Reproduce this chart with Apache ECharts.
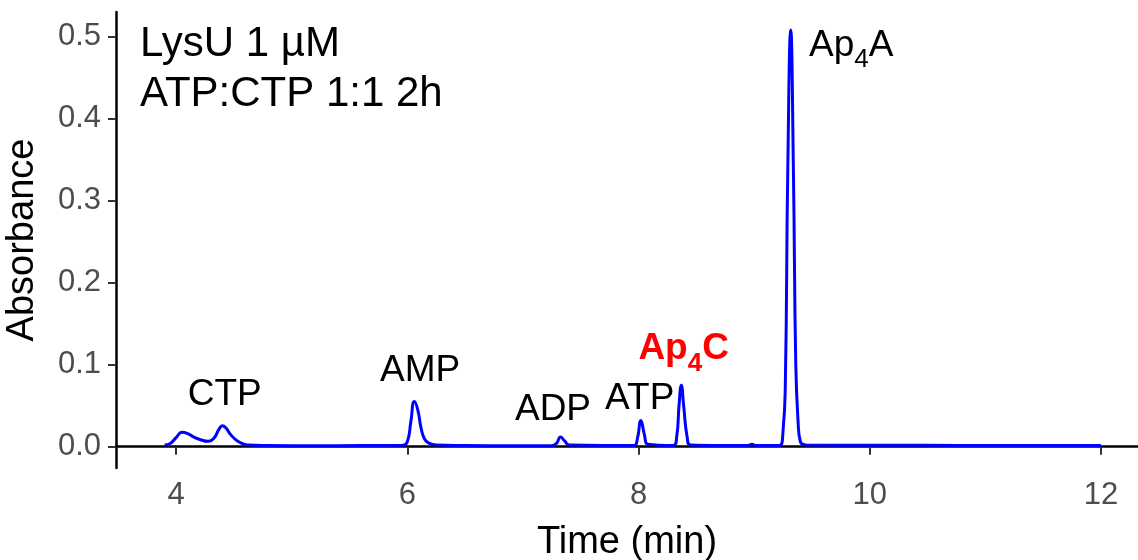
<!doctype html>
<html>
<head>
<meta charset="utf-8">
<title>LysU chromatogram</title>
<script src="https://cdn.jsdelivr.net/npm/echarts@6/dist/echarts.min.js"></script>
<style>
    html,body{
        margin: 0;
        width: 100%;
        height: 100%;
        background: #fff;
    }
    #chart{
        width: 1138px;
        height: 560px;
    }
</style>
</head>
<body>
<div id="chart"></div>
<script>
    // retention time (min) and absorbance
    var times = [
        3.90, 3.95, 4.00, 4.05, 4.10, 4.15, 4.20, 4.28, 4.33, 4.37, 4.40, 4.43, 4.47, 4.52, 4.57, 4.62,
        4.80, 5.20, 5.60, 5.96, 6.00, 6.03, 6.06, 6.09, 6.12, 6.15, 6.19, 6.25,
        6.50, 6.90, 7.25, 7.29, 7.325, 7.36, 7.40,
        7.70, 7.96, 7.99, 8.02, 8.05, 8.08,
        8.30, 8.33, 8.35, 8.37, 8.39, 8.42, 8.45,
        8.70, 8.95, 8.98, 9.01,
        9.22, 9.25, 9.27, 9.29, 9.316, 9.34, 9.36, 9.38, 9.40, 9.45,
        10.0, 10.5, 11.0, 11.5, 12.0
    ];
    var absorbance = [
        0.002, 0.004, 0.011, 0.0175, 0.016, 0.012, 0.009, 0.0065, 0.011, 0.021, 0.0256, 0.023, 0.015, 0.008, 0.004, 0.002,
        0.0015, 0.0012, 0.0013, 0.0016, 0.006, 0.030, 0.055, 0.045, 0.022, 0.009, 0.004, 0.002,
        0.0015, 0.0012, 0.0012, 0.004, 0.0118, 0.007, 0.002,
        0.0014, 0.0015, 0.010, 0.032, 0.015, 0.003,
        0.0015, 0.012, 0.050, 0.075, 0.050, 0.012, 0.002,
        0.0015, 0.0015, 0.003, 0.0015,
        0.0015, 0.020, 0.080, 0.330, 0.508, 0.330, 0.100, 0.030, 0.006, 0.002,
        0.0018, 0.0016, 0.0015, 0.0014, 0.0015
    ];

    // peak labels: name, anchor time, anchor absorbance (text centre)
    var peakNames = ['CTP', 'AMP', 'ADP', 'ATP', 'Ap4C', 'Ap4A'];
    var peakTimes = [4.42, 6.11, 7.26, 8.01, 8.39, 9.84];
    var peakAbs   = [0.063, 0.093, 0.045, 0.058, 0.119, 0.489];

    var xTicks = [4, 6, 8, 10, 12];
    var yTicks = [0, 0.1, 0.2, 0.3, 0.4, 0.5];

    var notes = ['LysU 1 µM', 'ATP:CTP 1:1 2h'];

    var FONT = '"Liberation Sans", Arial, sans-serif';

    var trace = times.map(function(t, i){ return [t, absorbance[i]]; });

    var labelFmt = {
        'CTP': '{k|CTP}', 'AMP': '{k|AMP}', 'ADP': '{k|ADP}', 'ATP': '{k|ATP}',
        'Ap4C': '{r|Ap}{rs|4}{r|C}',
        'Ap4A': '{k|Ap}{ks|4}{k|A}'
    };
    var labelData = peakNames.map(function(n, i){
        return {name: n, value: [peakTimes[i], peakAbs[i]]};
    });

    var chart = echarts.init(document.getElementById('chart'));

    var option = {
        animation: false,
        grid: {left: 116, right: 0, top: 12, bottom: 92, containLabel: false, outerBoundsMode: 'none'},
        xAxis: {
            type: 'value',
            min: 3.48,
            max: 12.32,
            name: 'Time (min)',
            nameLocation: 'middle',
            nameGap: 56,
            nameTextStyle: {fontFamily: FONT, fontSize: 38, color: '#000'},
            splitLine: {show: false},
            axisLine: {lineStyle: {color: '#000', width: 2.5}},
            axisTick: {length: 8, lineStyle: {color: '#333', width: 2}, customValues: xTicks},
            axisLabel: {
                fontFamily: FONT, fontSize: 31, color: '#4d4d4d', margin: 12,
                customValues: xTicks
            }
        },
        yAxis: {
            type: 'value',
            min: -0.026,
            max: 0.530,
            name: 'Absorbance',
            nameLocation: 'middle',
            nameGap: 74,
            nameRotate: 90,
            nameTextStyle: {fontFamily: FONT, fontSize: 38, color: '#000'},
            splitLine: {show: false},
            axisLine: {show: true, lineStyle: {color: '#000', width: 2.5}},
            axisTick: {show: true, length: 8, lineStyle: {color: '#333', width: 2}, customValues: yTicks},
            axisLabel: {
                fontFamily: FONT, fontSize: 31, color: '#4d4d4d', margin: 15,
                customValues: yTicks,
                formatter: function(v){ return v.toFixed(1); }
            }
        },
        graphic: [
            {type: 'text', left: 140, top: 23, style: {text: notes[0], font: '42px ' + FONT, fill: '#000'}},
            {type: 'text', left: 140, top: 73, style: {text: notes[1], font: '42px ' + FONT, fill: '#000'}}
        ],
        series: [
            {
                type: 'line',
                data: trace,
                showSymbol: false,
                smooth: 0.5,
                lineStyle: {color: '#0000ff', width: 3},
                z: 3
            },
            {
                type: 'scatter',
                data: labelData,
                symbolSize: 0,
                silent: true,
                itemStyle: {opacity: 1},
                label: {
                    show: true,
                    position: 'inside',
                    opacity: 1,
                    formatter: function(p){ return labelFmt[p.name]; },
                    rich: {
                        r:  {fontFamily: FONT, fontSize: 37, fontWeight: 'bold', color: '#ff0000'},
                        rs: {fontFamily: FONT, fontSize: 26, fontWeight: 'bold', color: '#ff0000', verticalAlign: 'bottom', padding: [0, 0, -9, 0]},
                        k:  {fontFamily: FONT, fontSize: 37, color: '#000'},
                        ks: {fontFamily: FONT, fontSize: 26, color: '#000', verticalAlign: 'bottom', padding: [0, 0, -9, 0]}
                    }
                },
                z: 4
            }
        ]
    };

    chart.setOption(option);
</script>
</body>
</html>
